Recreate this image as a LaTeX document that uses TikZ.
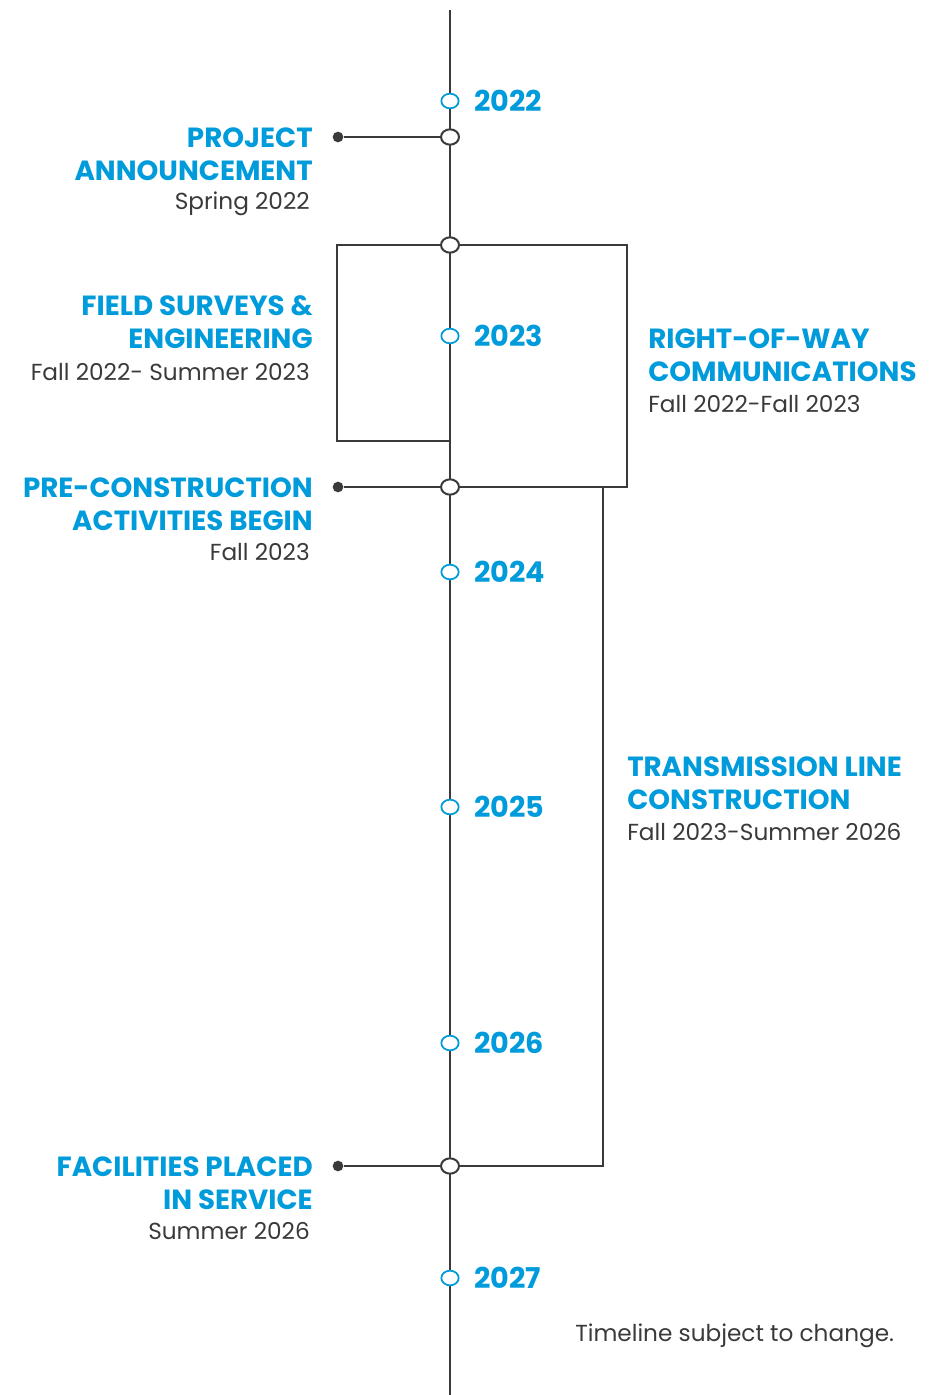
\documentclass[tikz,border=0pt]{standalone}
\usepackage{fontspec}
\setmainfont{Poppins}
\usetikzlibrary{positioning, shapes.geometric}

\definecolor{tlblue}{RGB}{0,155,219}
\definecolor{tlgray}{RGB}{58,58,58}

\begin{document}
\begin{tikzpicture}[
    x=0.75pt, y=-0.75pt,
    axis/.style={draw=tlgray, line width=1.5pt},
    link/.style={draw=tlgray, line width=1.5pt},
    milestone/.style={ellipse, draw=tlgray, fill=white, line width=1.5pt,
                      minimum width=13.5pt, minimum height=11.5pt, inner sep=0pt},
    yearmark/.style={ellipse, draw=tlblue, fill=white, line width=1.3pt,
                     minimum width=13pt, minimum height=11pt, inner sep=0pt},
    pin/.style={circle, fill=tlgray, minimum size=8pt, inner sep=0pt},
    year/.style={font=\fontsize{21.5}{24}\selectfont\bfseries, text=tlblue,
                 anchor=base west, inner sep=0pt},
    title/.style={font=\fontsize{20.8}{24.75}\selectfont\bfseries, text=tlblue,
                  align=right, anchor=base east, inner sep=0pt},
    titleR/.style={title, align=left, anchor=base west},
    date/.style={font=\fontsize{17.4}{22}\selectfont, text=tlgray,
                 anchor=base east, inner sep=0pt},
    dateR/.style={date, anchor=base west}
]
    \useasboundingbox (0,0) rectangle (929,1395);

    % Axis
    \coordinate (top) at (450,10);
    \coordinate (bottom) at (450,1395);
    \draw[axis] (top) -- (bottom);

    % Years
    \node[yearmark] (y22) at (450,101) {};
    \node[yearmark] (y23) at (450,336) {};
    \node[yearmark] (y24) at (450,572) {};
    \node[yearmark] (y25) at (450,807) {};
    \node[yearmark] (y26) at (450,1043) {};
    \node[yearmark] (y27) at (450,1278) {};
    \node[year] at (474,111) {2022};
    \node[year] at (474,346) {2023};
    \node[year] at (474,582) {2024};
    \node[year] at (474,817) {2025};
    \node[year] at (474,1053) {2026};
    \node[year] at (474,1288) {2027};

    % Milestones
    \node[milestone] (announce) at (450,137) {};
    \node[milestone] (start) at (450,245) {};
    \node[milestone] (precon) at (450,487) {};
    \node[milestone] (service) at (450,1166) {};

    % Pins
    \node[pin] (announcepin) at (338,137) {};
    \node[pin] (preconpin) at (338,487) {};
    \node[pin] (servicepin) at (338,1166) {};
    \draw[link] (announcepin) -- (announce);
    \draw[link] (preconpin) -- (precon);
    \draw[link] (servicepin) -- (service);

    % Field surveys box
    \coordinate (fieldNW) at (337,245);
    \coordinate (fieldSW) at (337,441);
    \coordinate (fieldSE) at (450,441);
    \draw[link] (start) -- (fieldNW) -- (fieldSW) -- (fieldSE);

    % Right-of-way box
    \coordinate (rowNE) at (627,245);
    \coordinate (rowSE) at (627,487);
    \draw[link] (start) -- (rowNE) -- (rowSE) -- (precon);

    % Transmission line box
    \coordinate (lineNE) at (603,487);
    \coordinate (lineSE) at (603,1166);
    \draw[link] (precon) -- (lineNE) -- (lineSE) -- (service);

    % Left labels (base = last line)
    \node[title] (announceT) at (313,180) {PROJECT\\ANNOUNCEMENT};
    \node[date] (announceD) at (310,209) {Spring 2022};
    \node[title] (fieldT) at (313,348) {FIELD SURVEYS \&\\ENGINEERING};
    \node[date] (fieldD) at (310,380) {Fall 2022- Summer 2023};
    \node[title] (preconT) at (313,530) {PRE-CONSTRUCTION\\ACTIVITIES BEGIN};
    \node[date] (preconD) at (310,560) {Fall 2023};
    \node[title] (serviceT) at (313,1209) {FACILITIES PLACED\\IN SERVICE};
    \node[date] (serviceD) at (310,1239) {Summer 2026};

    % Right labels
    \node[titleR] (rowT) at (648,381) {RIGHT-OF-WAY\\COMMUNICATIONS};
    \node[dateR] (rowD) at (648,412) {Fall 2022-Fall 2023};
    \node[titleR] (lineT) at (627,809) {TRANSMISSION LINE\\CONSTRUCTION};
    \node[dateR] (lineD) at (627,840) {Fall 2023-Summer 2026};

    % Note
    \node[dateR] (note) at (575,1341) {Timeline subject to change.};
\end{tikzpicture}
\end{document}
